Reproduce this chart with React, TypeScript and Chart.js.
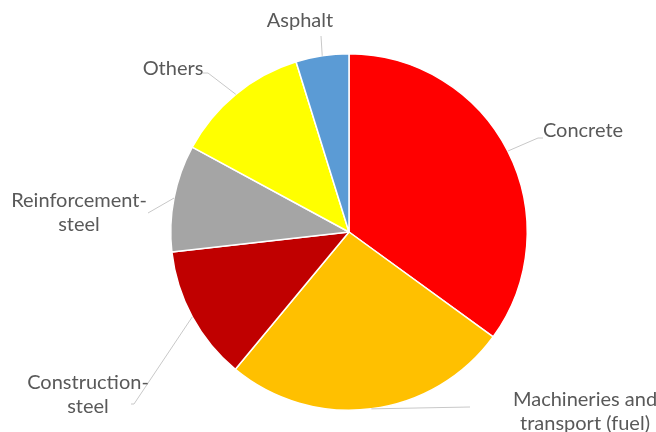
import React, { useEffect, useRef } from "react";
import { Chart, registerables } from "chart.js";

Chart.register(...registerables);

const categories = [
  "Concrete",
  "Machineries and transport (fuel)",
  "Construction-steel",
  "Reinforcement-steel",
  "Others",
  "Asphalt",
];
const shares = [35.0, 26.0, 12.2, 9.7, 12.3, 4.8];
const sliceColors = ["#FF0000", "#FFC000", "#C00000", "#A5A5A5", "#FFFF00", "#5B9BD5"];
const labelLines = [
  ["Concrete"],
  ["Machineries and", "transport (fuel)"],
  ["Construction-", "steel"],
  ["Reinforcement-", "steel"],
  ["Others"],
  ["Asphalt"],
];

// layout of the outside labels (text centre) and leader-line path (elbow, end)
const labelLayout = [
  { x: 583, y: 131, elbow: [538, 138], end: [543, 138] },
  { x: 585, y: 400, elbow: [470, 407], end: [470, 407] },
  { x: 88, y: 383, elbow: [134, 404], end: [131, 404] },
  { x: 79, y: 201, elbow: [148, 213], end: [148, 213] },
  { x: 173, y: 69, elbow: [208, 73], end: [203, 73] },
  { x: 300, y: 21, elbow: [321, 36], end: [321, 36] },
];

const labelPlugin = {
  id: "outsideLabels",
  afterDraw(chart: any) {
    const ctx = chart.ctx;
    const arcs = chart.getDatasetMeta(0).data;
    ctx.save();
    arcs.forEach((arc: any, i: number) => {
      const mid = (arc.startAngle + arc.endAngle) / 2;
      const ax = arc.x + Math.cos(mid) * arc.outerRadius;
      const ay = arc.y + Math.sin(mid) * arc.outerRadius;
      const L = labelLayout[i];
      ctx.strokeStyle = "#C8C8C8";
      ctx.lineWidth = 1;
      ctx.beginPath();
      ctx.moveTo(ax, ay);
      ctx.lineTo(L.elbow[0], L.elbow[1]);
      ctx.lineTo(L.end[0], L.end[1]);
      ctx.stroke();
      ctx.fillStyle = "#595959";
      ctx.font = "20px Lato";
      ctx.textAlign = "center";
      ctx.textBaseline = "middle";
      const lines = labelLines[i];
      lines.forEach((t, k) => {
        ctx.fillText(t, L.x, L.y + k * 24);
      });
    });
    ctx.restore();
  },
};

export default function App() {
  const ref = useRef<HTMLCanvasElement>(null);
  useEffect(() => {
    document.body.style.margin = "0";
    const chart = new Chart(ref.current!, {
      type: "pie",
      data: {
        labels: categories,
        datasets: [
          {
            data: shares,
            backgroundColor: sliceColors,
            borderColor: "#FFFFFF",
            borderWidth: 1.5,
          },
        ],
      },
      options: {
        responsive: false,
        animation: false,
        layout: { padding: { left: 170, right: 128, top: 53, bottom: 21 } },
        plugins: {
          legend: { display: false },
          tooltip: { enabled: false },
        },
      },
      plugins: [labelPlugin],
    });
    return () => chart.destroy();
  }, []);
  return (
    <div style={{ width: 656, height: 432 }}>
      <canvas ref={ref} width={656} height={432} />
    </div>
  );
}
